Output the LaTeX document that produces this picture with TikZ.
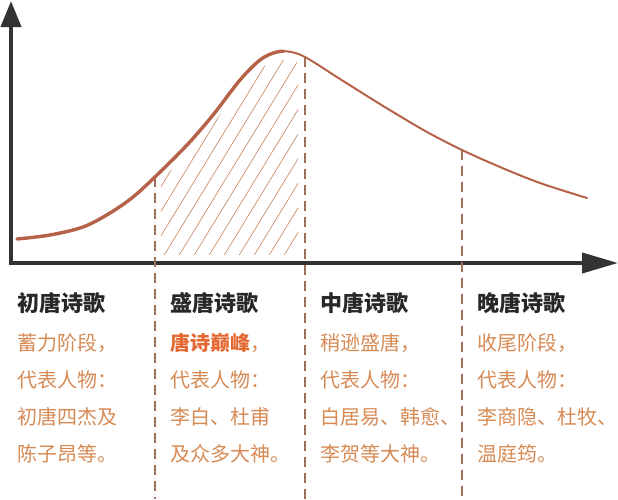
\documentclass[tikz,border=0pt]{standalone}
\usepackage{fontspec}
\newfontfamily\cjk{Noto Sans CJK SC}
\usetikzlibrary{arrows.meta}
\definecolor{axisgray}{RGB}{51,51,51}
\definecolor{curvebrown}{RGB}{181,98,72}
\definecolor{guidebrown}{RGB}{160,112,90}
\definecolor{hatchbrown}{RGB}{196,128,88}
\definecolor{headgray}{RGB}{40,40,40}
\definecolor{bodyorange}{RGB}{214,138,84}
\definecolor{peakorange}{RGB}{228,104,50}
\def\tangcurve{plot[smooth,tension=0.55] coordinates {(17,239) (50,235) (83,227) (110,213) (133,197) (157,175) (187,145) (213,115) (240,80) (260,60) (275,52.5) (288,51.5) (305,57) (340,79) (367,96) (393,112) (427,132) (462,150) (500,167) (540,183) (587,198)}}
\begin{document}
\begin{tikzpicture}[x=1pt,y=-1pt,line cap=round,line join=round,
	axis/.style={line width=4pt,color=axisgray,line cap=butt},
	guide/.style={line width=1.8pt,color=guidebrown,dash pattern=on 10pt off 6pt,line cap=butt},
	hatch/.style={line width=0.6pt,color=hatchbrown},
	head/.style={anchor=base west,inner sep=0pt,font=\cjk\bfseries\fontsize{22}{22}\selectfont,text=headgray},
	body/.style={anchor=base west,inner sep=0pt,font=\cjk\fontsize{20}{20}\selectfont,text=bodyorange}]
	\useasboundingbox (0,0) rectangle (618,499);
	% axes
	\coordinate (o) at (11,263);
	\coordinate (ytip) at (11,1);
	\coordinate (xtip) at (618,263);
	\draw[axis,-{Triangle[length=26pt,width=20pt]}] ([yshift=-2pt]o) -- (ytip);
	\draw[axis,-{Triangle[length=36pt,width=20pt]}] ([xshift=-2pt]o) -- (xtip);
	% hatching under the peak
	\begin{scope}
		\clip (161,40) rectangle (298,254);
		\clip[shift={(0,9)}] \tangcurve -- (600,300) -- (0,300) -- cycle;
		\foreach \i in {0,...,20}
			\draw[hatch] (10+15*\i,262) -- ++(160,-262);
	\end{scope}
	% period borders
	\coordinate (p1) at (155,177);
	\coordinate (p2) at (305,57);
	\coordinate (p3) at (462,150);
	\foreach \p in {1,2,3}
		\draw[guide] (p\p) -- (p\p |- 0,499);
	% curve
	\draw[line width=2pt,color=curvebrown] \tangcurve;
	\begin{scope}
		\clip (0,0) rectangle (284,300);
		\draw[line width=3.4pt,color=curvebrown] \tangcurve;
	\end{scope}
	% labels
	\node[head] (h1) at (17,311.5) {初唐诗歌};
	\node[head] (h2) at (170,311.5) {盛唐诗歌};
	\node[head] (h3) at (320,311.5) {中唐诗歌};
	\node[head] (h4) at (477,311.5) {晚唐诗歌};
	\foreach \t [count=\i] in {蓄力阶段，,代表人物：,初唐四杰及,陈子昂等。}
		\node[body] (a\i) at (17,313.5+37*\i) {\t};
	\foreach \t [count=\i] in {{{\bfseries\color{peakorange}唐诗巅峰}，},代表人物：,李白、杜甫,及众多大神。}
		\node[body] (b\i) at (170,313.5+37*\i) {\t};
	\foreach \t [count=\i] in {稍逊盛唐，,代表人物：,白居易、韩愈、,李贺等大神。}
		\node[body] (c\i) at (320,313.5+37*\i) {\t};
	\foreach \t [count=\i] in {收尾阶段，,代表人物：,李商隐、杜牧、,温庭筠。}
		\node[body] (d\i) at (477,313.5+37*\i) {\t};
\end{tikzpicture}
\end{document}
